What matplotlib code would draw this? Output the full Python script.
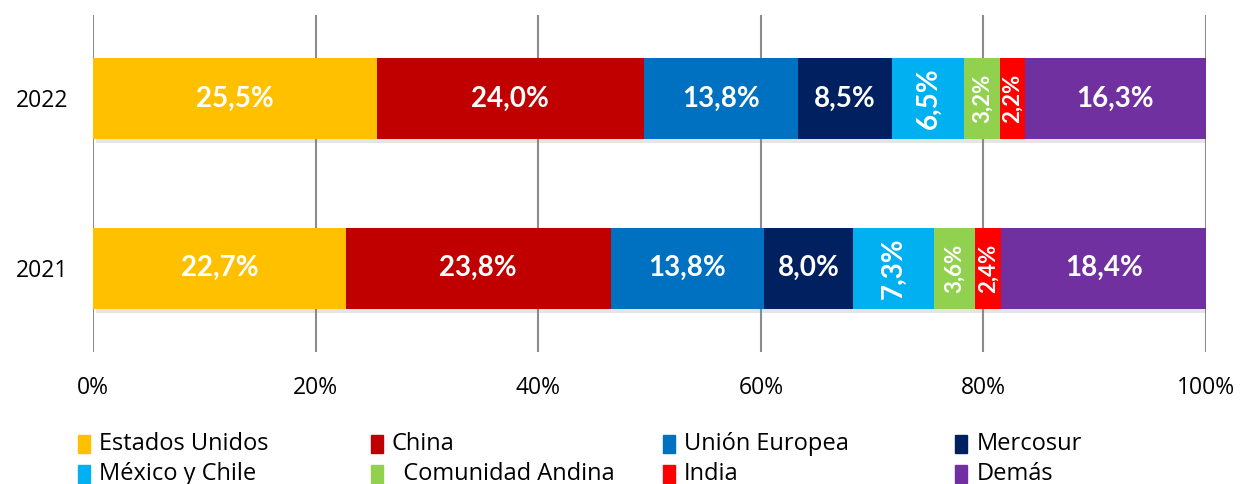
import matplotlib
matplotlib.use('Agg')
import matplotlib.pyplot as plt
import matplotlib.patheffects as pe
from matplotlib.patches import Rectangle

years = ['2021', '2022']
partners = ['Estados Unidos', 'China', 'Unión Europea', 'Mercosur',
            'México y Chile', '  Comunidad Andina', 'India', 'Demás']
colors = ['#FFC000', '#C00000', '#0070C0', '#002060',
          '#00B0F0', '#92D050', '#FF0000', '#7030A0']
shares_2021 = [22.7, 23.8, 13.8, 8.0, 7.3, 3.6, 2.4, 18.4]
shares_2022 = [25.5, 24.0, 13.8, 8.5, 6.5, 3.2, 2.2, 16.3]
xticks = [0, 20, 40, 60, 80, 100]

fig = plt.figure(figsize=(12.4, 4.84), dpi=100)
ax = fig.add_axes([0.075, 0.2727, 0.8976, 0.6963])

shadow = [pe.SimplePatchShadow(offset=(2, -3), shadow_rgbFace='#808080', alpha=0.2), pe.Normal()]

for ypos, shares in enumerate([shares_2021, shares_2022]):
    left = 0
    for val, col in zip(shares, colors):
        b = ax.barh(ypos, val, left=left, height=0.476, color=col, edgecolor='none')
        for p in b.patches:
            p.set_path_effects(shadow)
        lab = ('%.1f%%' % val).replace('.', ',')
        if val < 5:
            ax.text(left + val / 2, ypos, lab, rotation=90, ha='center', va='center',
                    color='white', fontsize=16, fontweight='bold', family='Lato')
        elif val < 8:
            ax.text(left + val / 2, ypos, lab, rotation=90, ha='center', va='center',
                    color='white', fontsize=20, fontweight='bold', family='Lato')
        else:
            ax.text(left + val / 2, ypos, lab, ha='center', va='center',
                    color='white', fontsize=20, fontweight='bold', family='Lato')
        left += val

ax.set_xlim(0, 100)
ax.set_ylim(-0.494, 1.491)
ax.set_xticks(xticks)
ax.set_xticklabels(['%d%%' % t for t in xticks], fontsize=16.5, family='Open Sans')
ax.set_yticks([0, 1])
ax.set_yticklabels(years, fontsize=16.5, family='Open Sans')
ax.tick_params(axis='both', length=0)
ax.tick_params(axis='x', pad=17)
ax.tick_params(axis='y', pad=18)
for s in ax.spines.values():
    s.set_visible(False)
ax.set_axisbelow(True)
ax.xaxis.grid(True, color='#8c8c8c', linewidth=1.5)

# legend drawn by hand: 4 equal columns, 2 rows
for i, (name, col) in enumerate(zip(partners, colors)):
    r, c = divmod(i, 4)
    x0 = (78 + c * 292.5) / 1240
    yc = 1 - (444 + r * 30) / 484
    fig.add_artist(Rectangle((x0, yc - 9 / 484), 12 / 1240, 18 / 484,
                             transform=fig.transFigure, color=col))
    fig.text(x0 + 21 / 1240, yc, name, ha='left', va='center',
             fontsize=17, family='Open Sans', color='black')

fig.savefig('out.png', dpi=100)
